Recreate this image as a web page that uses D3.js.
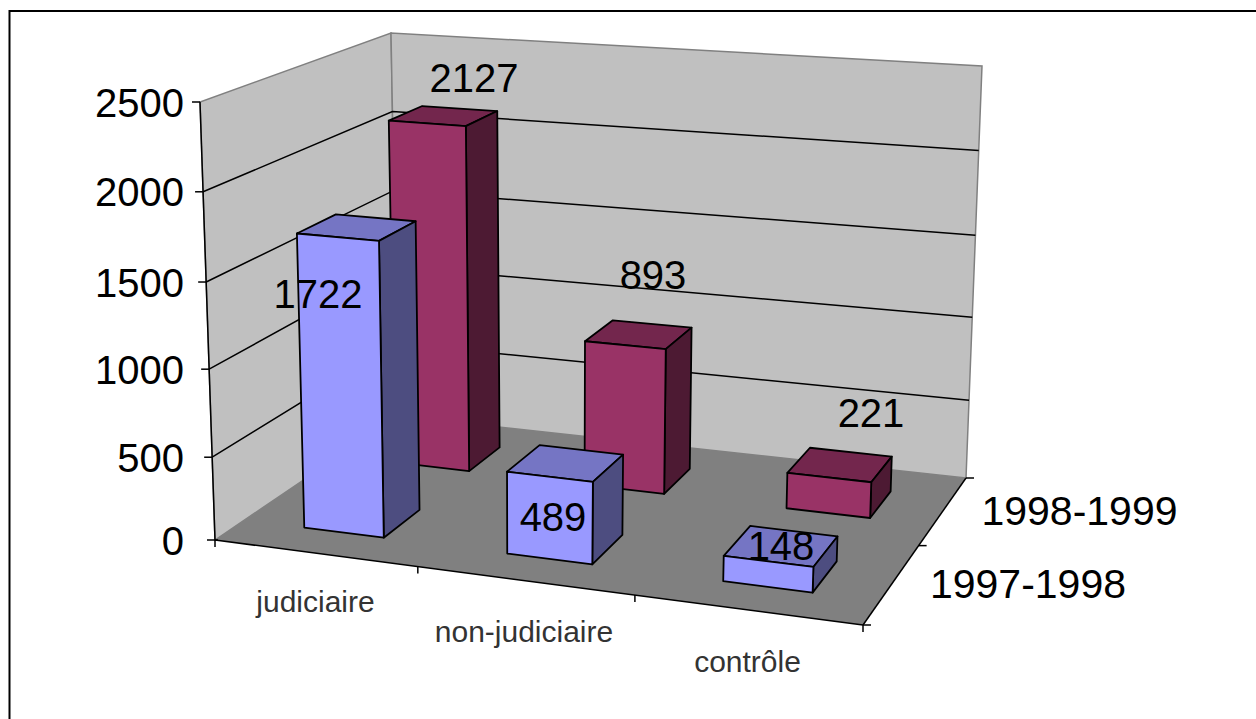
<!DOCTYPE html>
<html>
<head>
<meta charset="utf-8">
<script src="https://cdnjs.cloudflare.com/ajax/libs/d3/7.8.5/d3.min.js"></script>
<style>
  html, body { margin: 0; padding: 0; background: #fff; }
  svg { display: block; }
  text { font-family: "Liberation Sans", Arial, sans-serif; fill: #000; }
</style>
</head>
<body>
<svg id="chart" width="1256" height="719"></svg>
<script>
// Chart values
const categories = ["judiciaire", "non-judiciaire", "contrôle"];
const seriesNames = ["1997-1998", "1998-1999"];
const values1997 = [1722, 489, 148];
const values1998 = [2127, 893, 221];
const valueTicks = [0, 500, 1000, 1500, 2000, 2500];

// Shades of each series: front, top and side faces
const palette = [
  { front: "#9999ff", top: "#7575c4", side: "#4d4d80" },
  { front: "#993366", top: "#73264d", side: "#4d1a33" }
];

// Box of the 3D plot: [floor point, point at the top of the value axis]
const box = {
  frontLeft:  [[215, 540], [200, 102]],
  frontRight: [[863, 625], [880, 154]],
  backLeft:   [[398, 416], [391, 33]],
  backRight:  [[966, 478], [982, 66]]
};

// Scales into unit box coordinates; perspective makes the steps uneven
const catScale = d3.scaleLinear().domain([0, 1, 2, 3]).range([0, 0.313, 0.648, 1]);
const depthScale = d3.scaleLinear().domain([0, 1, 2]).range([0, 0.54, 1]);
const valueScale = d3.scaleLinear().domain(valueTicks).range([0, 0.189, 0.39, 0.589, 0.795, 1]);

function project(cat, depth, value) {
  const u = catScale(cat), v = depthScale(depth), h = valueScale(value);
  const edge = c => d3.interpolateArray(c[0], c[1])(h);
  const front = d3.interpolateArray(edge(box.frontLeft), edge(box.frontRight))(u);
  const back = d3.interpolateArray(edge(box.backLeft), edge(box.backRight))(u);
  return d3.interpolateArray(front, back)(v);
}

const svg = d3.select("#chart");
const poly = pts => pts.map(p => p.join(",")).join(" ");
const path = d3.line();

// Frame around the chart area
svg.append("path").attr("d", "M9.5,719V11H1256").attr("fill", "none")
  .attr("stroke", "#000").attr("stroke-width", 2);

// Walls and floor
const wallStyle = s => s.attr("fill", "#c0c0c0").attr("stroke", "#808080").attr("stroke-width", 1.5);
svg.append("polygon").call(wallStyle).attr("points",
  poly([project(0, 0, 0), project(0, 0, 2500), project(0, 2, 2500), project(0, 2, 0)]));
svg.append("polygon").call(wallStyle).attr("points",
  poly([project(0, 2, 0), project(0, 2, 2500), project(3, 2, 2500), project(3, 2, 0)]));
svg.append("polygon").attr("fill", "#808080").attr("points",
  poly([project(0, 0, 0), project(3, 0, 0), project(3, 2, 0), project(0, 2, 0)]));

// Gridlines across both walls
svg.append("g").selectAll("path").data(valueTicks.slice(1, -1)).join("path")
  .attr("d", t => path([project(0, 0, t), project(0, 2, t), project(3, 2, t)]))
  .attr("fill", "none").attr("stroke", "#000").attr("stroke-width", 1.5);

// Axis lines and tick marks
const axisLine = pts => svg.append("path").attr("d", path(pts)).attr("fill", "none")
  .attr("stroke", "#000").attr("stroke-width", 1.5);
axisLine([project(0, 0, 0), project(0, 0, 2500)]);
axisLine([project(0, 0, 0), project(3, 0, 0)]);
axisLine([project(3, 0, 0), project(3, 2, 0)]);
valueTicks.forEach(t => {
  const [x, y] = project(0, 0, t);
  axisLine([[x - 8, y], [x + (t === 0 ? 3 : 0), y]]);
});
d3.range(0, 4).forEach(c => {
  const [x, y] = project(c, 0, 0);
  axisLine([[x, y], [x, y + 7]]);
});
d3.range(0, 3).forEach(d => {
  const [x, y] = project(3, d, 0);
  axisLine([[x, y], [x + 8, y]]);
});

// Bars, back series first; each fills the middle of its cell
const barInset = 0.3;
[1, 0].forEach(s => {
  const vals = s === 0 ? values1997 : values1998;
  const g = svg.append("g");
  vals.forEach((val, c) => {
    const x0 = c + barInset, x1 = c + 1 - barInset;
    const d0 = s + barInset, d1 = s + 1 - barInset;
    const faces = [
      ["top", [[x0, d0, val], [x1, d0, val], [x1, d1, val], [x0, d1, val]]],
      ["side", [[x1, d0, 0], [x1, d1, 0], [x1, d1, val], [x1, d0, val]]],
      ["front", [[x0, d0, 0], [x1, d0, 0], [x1, d0, val], [x0, d0, val]]]
    ];
    g.append("g").selectAll("polygon").data(faces).join("polygon")
      .attr("points", f => poly(f[1].map(p => project(...p))))
      .attr("fill", f => palette[s][f[0]])
      .attr("stroke", "#000").attr("stroke-width", 1.8).attr("stroke-linejoin", "round");
  });
});

// Value axis labels
svg.append("g").selectAll("text").data(valueTicks).join("text")
  .attr("x", 184)
  .attr("y", t => project(0, 0, t)[1] + 14.5)
  .attr("text-anchor", "end").attr("font-size", 40)
  .text(d => d);

// Category labels
const catLabelPos = [[315.5, 612], [524, 642], [747.5, 672]];
svg.append("g").selectAll("text").data(categories).join("text")
  .attr("x", (d, i) => catLabelPos[i][0])
  .attr("y", (d, i) => catLabelPos[i][1])
  .attr("text-anchor", "middle").attr("font-size", 30).style("fill", "#333")
  .text(d => d);

// Series labels beside the depth axis
const seriesLabelPos = [[1028, 598], [1079.5, 525]];
svg.append("g").selectAll("text").data(seriesNames).join("text")
  .attr("x", (d, i) => seriesLabelPos[i][0])
  .attr("y", (d, i) => seriesLabelPos[i][1])
  .attr("text-anchor", "middle").attr("font-size", 41)
  .text(d => d);

// Value labels on the bars
const labelPos = [
  [[318, 308], [553, 531], [781, 560]],
  [[474, 92], [653, 289], [871, 427]]
];
[values1998, values1997].forEach((vals, k) => {
  const s = 1 - k;
  svg.append("g").selectAll("text").data(vals).join("text")
    .attr("x", (d, i) => labelPos[s][i][0])
    .attr("y", (d, i) => labelPos[s][i][1])
    .attr("text-anchor", "middle").attr("font-size", 40)
    .text(d => d);
});
</script>
</body>
</html>
